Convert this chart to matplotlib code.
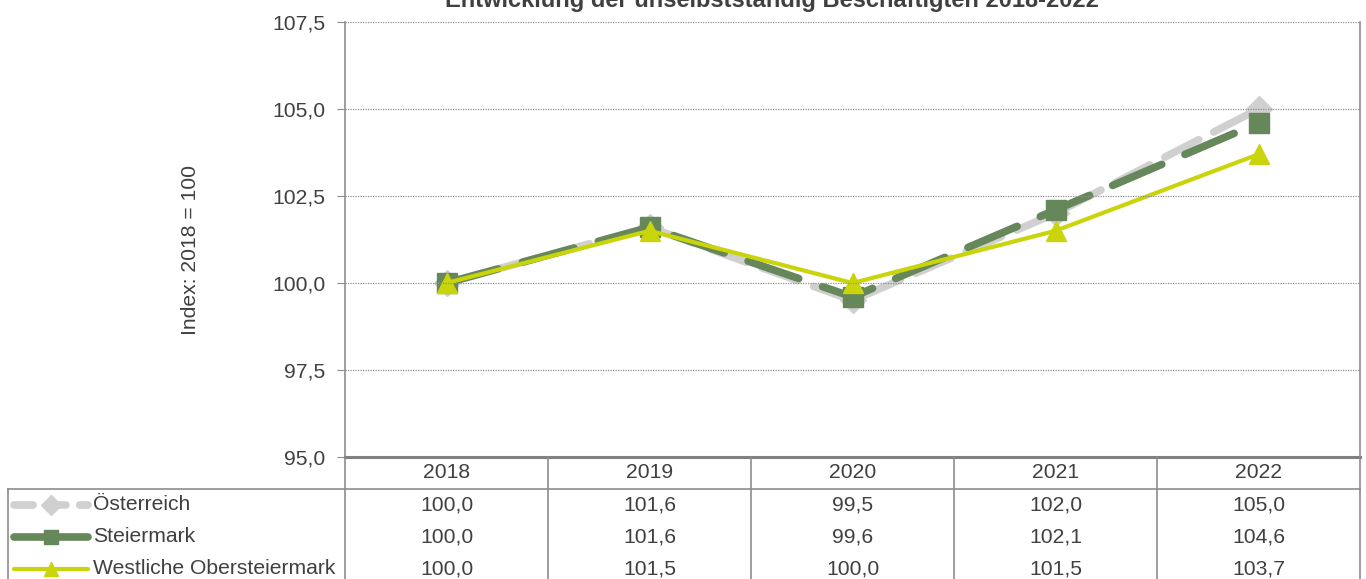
import matplotlib
matplotlib.use("Agg")
import matplotlib.pyplot as plt

# data
years = ["2018", "2019", "2020", "2021", "2022"]
oesterreich = [100.0, 101.6, 99.5, 102.0, 105.0]
steiermark = [100.0, 101.6, 99.6, 102.1, 104.6]
westliche = [100.0, 101.5, 100.0, 101.5, 103.7]
series_names = ["Österreich", "Steiermark", "Westliche Obersteiermark"]
yticks = [95.0, 97.5, 100.0, 102.5, 105.0, 107.5]

plt.rcParams['font.family'] = ['Liberation Sans', 'DejaVu Sans']
TXT = '#404040'
GRAY = '#d0d0d0'
GREEN = '#65875a'
YELLOW = '#c9d40a'
LINE = '#8c8c8c'
FS = 15.2

W, H = 1366, 579
fig = plt.figure(figsize=(W / 100, H / 100), dpi=100)

def px(l, t, r, b):
    return [l / W, 1 - b / H, (r - l) / W, (b - t) / H]

ax = fig.add_axes(px(345, 22, 1360, 457))
x = [i + 0.5 for i in range(len(years))]

styles = [
    dict(color=GRAY, lw=5.5, dashes=(5, 2.2), marker='D', ms=13),
    dict(color=GREEN, lw=5.5, dashes=(7, 3.3), marker='s', ms=14),
    dict(color=YELLOW, lw=3, marker='^', ms=14),
]
for vals, st in zip([oesterreich, steiermark, westliche], styles):
    ax.plot(x, vals, color=st['color'], lw=st['lw'], marker=st['marker'],
            ms=st['ms'], mec=st['color'], mfc=st['color'],
            dash_capstyle='round', solid_capstyle='round',
            **({'dashes': st['dashes']} if 'dashes' in st else {}))

ax.set_xlim(0, 5)
ax.set_ylim(95, 107.5)
ax.set_yticks(yticks)
ax.set_yticklabels([f"{v:.1f}".replace('.', ',') for v in yticks],
                   fontsize=FS, color=TXT)
ax.set_xticks([])
ax.tick_params(axis='y', length=6, color=LINE, pad=8)
for v in yticks[1:]:
    ax.axhline(v, color='#909090', lw=0.9, ls=(0, (1, 1)))
for s in ['left', 'right']:
    ax.spines[s].set_color(LINE)
    ax.spines[s].set_linewidth(1.2)
ax.spines['top'].set_visible(False)
ax.spines['bottom'].set_color('#808080')
ax.spines['bottom'].set_linewidth(2.2)
ax.set_ylabel("Index: 2018 = 100", fontsize=FS, color=TXT)
ax.yaxis.set_label_coords(-0.143, 0.476)

fig.text(772 / W, 1 - 1 / H, "Entwicklung der unselbstständig Beschäftigten 2018-2022",
         ha='center', va='center', fontsize=17, fontweight='bold', color=TXT)

# data table below the chart
tab = fig.add_axes(px(345, 457, 1360, 585))
tab.set_xlim(0, 5)
tab.set_ylim(4, 0)
tab.axis('off')
left = (8 - 345) / 203.0
kw = dict(color=LINE, lw=1.2, clip_on=False)
for i in range(6):
    tab.plot([i, i], [0, 4], **kw)
tab.plot([left, 5], [1, 1], **kw)
tab.plot([left, left], [1, 4], **kw)
for i, yr in enumerate(years):
    tab.text(i + 0.5, 0.5, yr, ha='center', va='center', fontsize=FS, color=TXT)
for r, vals in enumerate([oesterreich, steiermark, westliche]):
    yy = r + 1.5
    for i, v in enumerate(vals):
        tab.text(i + 0.5, yy, f"{v:.1f}".replace('.', ','), ha='center',
                 va='center', fontsize=FS, color=TXT)
    st = styles[r]
    x0, x1 = (14 - 345) / 203.0, (88 - 345) / 203.0
    tab.plot([x0, (x0 + x1) / 2, x1], [yy, yy, yy], color=st['color'],
             lw=st['lw'], marker=st['marker'], ms=st['ms'] * 0.75,
             markevery=[1], mec=st['color'], mfc=st['color'], clip_on=False,
             dash_capstyle='round', solid_capstyle='round',
             **({'dashes': (2.5, 1.8)} if r == 0 else {}))
    tab.text((93 - 345) / 203.0, yy, series_names[r], ha='left', va='center',
             fontsize=FS, color=TXT)

fig.savefig("out.png", dpi=100)
